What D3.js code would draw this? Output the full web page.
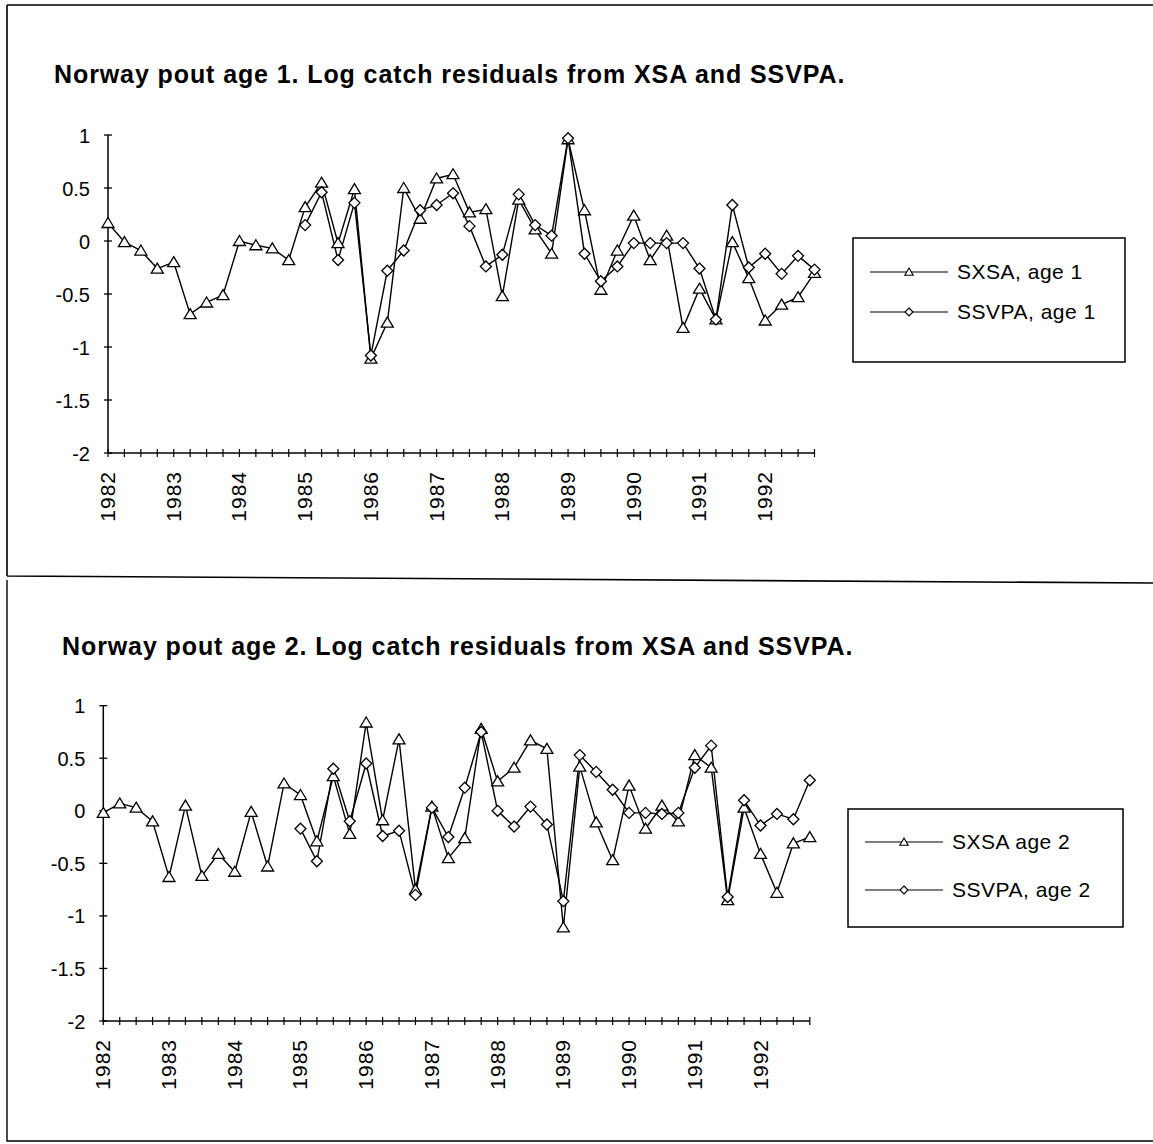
<!DOCTYPE html>
<html>
<head>
<meta charset="utf-8">
<script src="https://cdn.jsdelivr.net/npm/d3@7"></script>
<style>
  html, body { margin: 0; padding: 0; background: #fff; }
  svg { display: block; }
  text { font-family: "Liberation Sans", Arial, Helvetica, sans-serif; fill: #000; }
</style>
</head>
<body>
<svg id="chart" width="1153" height="1144"></svg>
<script>
// ---- Data ----
const years = ["1982","1983","1984","1985","1986","1987","1988","1989","1990","1991","1992"];
const quarters = [1, 2, 3, 4];
const categories = years.flatMap(y => quarters.map(q => y + " Q" + q));
const yTicks = [1, 0.5, 0, -0.5, -1, -1.5, -2];
const yTickLabels = ["1", "0.5", "0", "-0.5", "-1", "-1.5", "-2"];

const titles = [
  "Norway pout age 1. Log catch residuals from XSA and SSVPA.",
  "Norway pout age 2. Log catch residuals from XSA and SSVPA."
];
const seriesNames1 = ["SXSA, age 1", "SSVPA, age 1"];
const seriesNames2 = ["SXSA age 2", "SSVPA, age 2"];

const sxsaAge1 = [0.17,-0.01,-0.09,-0.26,-0.20,-0.69,-0.58,-0.51,0.00,-0.04,-0.07,-0.18,
  0.32,0.55,-0.02,0.49,-1.11,-0.77,0.50,0.21,0.59,0.63,
  0.27,0.30,-0.52,0.39,0.11,-0.12,0.96,0.29,-0.46,-0.09,
  0.24,-0.18,0.05,-0.82,-0.45,-0.74,-0.01,-0.35,-0.75,-0.60,-0.53,-0.30];
const ssvpaAge1 = [null,null,null,null,null,null,null,null,null,null,null,null,
  0.15,0.46,-0.18,0.36,-1.08,-0.28,-0.09,0.29,0.34,0.45,
  0.14,-0.24,-0.13,0.44,0.15,0.05,0.97,-0.12,-0.38,-0.24,
  -0.02,-0.02,-0.02,-0.02,-0.26,-0.74,0.34,-0.25,-0.12,-0.31,-0.14,-0.27];
const sxsaAge2 = [-0.02,0.07,0.03,-0.10,-0.63,0.05,-0.62,-0.41,-0.58,-0.01,-0.53,0.26,
  0.15,-0.29,0.33,-0.22,0.84,-0.09,0.68,-0.75,0.04,-0.45,
  -0.26,0.78,0.28,0.41,0.67,0.59,-1.11,0.42,-0.11,-0.47,
  0.24,-0.17,0.05,-0.10,0.53,0.41,-0.85,0.03,-0.41,-0.78,-0.31,-0.25];
const ssvpaAge2 = [null,null,null,null,null,null,null,null,null,null,null,null,
  -0.17,-0.48,0.40,-0.10,0.45,-0.24,-0.19,-0.80,0.03,-0.25,
  0.22,0.75,0.00,-0.15,0.04,-0.13,-0.86,0.53,0.37,0.20,
  -0.02,-0.02,-0.03,-0.02,0.41,0.62,-0.82,0.10,-0.14,-0.03,-0.08,0.29];

// ---- Drawing ----
const svg = d3.select("#chart");

// panel frames
svg.append("path").attr("d", "M7,5 L1153,5 M7,5 L7,576 M7,576 L1153,583")
  .attr("fill", "none").attr("stroke", "#000").attr("stroke-width", 1.6);
svg.append("path").attr("d", "M7,580 L7,1141 L1153,1141")
  .attr("fill", "none").attr("stroke", "#000").attr("stroke-width", 1.4);

const triPath = "M0,-5.5 L6,4.5 L-6,4.5 Z";
const diaPath = "M0,-5.5 L5.5,0 L0,5.5 L-5.5,0 Z";
const triSmall = "M0,-4 L4.2,3.2 L-4.2,3.2 Z";
const diaSmall = "M0,-4 L4,0 L0,4 L-4,0 Z";

function panel(cfg) {
  const g = svg.append("g");
  const x = d3.scalePoint().domain(categories).range([cfg.x0, cfg.x1]);
  const y = d3.scaleLinear().domain([-2, 1]).range([cfg.yBottom, cfg.yTop]);

  // title
  g.append("text").attr("x", cfg.titleX).attr("y", cfg.titleY)
    .attr("font-size", 25).attr("font-weight", "bold").attr("letter-spacing", 0.9)
    .text(cfg.title);

  // y axis
  const yAxis = d3.axisLeft(y).tickValues(yTicks).tickSize(0).tickFormat((d, i) => yTickLabels[i]);
  const ya = g.append("g").attr("transform", `translate(${cfg.x0},0)`).call(yAxis);
  ya.select(".domain").remove();
  ya.selectAll("text").attr("font-size", 20).attr("x", -18).attr("dy", "0.35em")
    .attr("font-family", "Liberation Sans, Arial, sans-serif").attr("fill", "#000");
  g.append("line").attr("x1", cfg.x0).attr("x2", cfg.x0).attr("y1", y(1)).attr("y2", y(-2))
    .attr("stroke", "#000").attr("stroke-width", 1.5);
  g.selectAll(".ytk").data(yTicks).join("line").attr("class", "ytk")
    .attr("x1", cfg.x0 - 4).attr("x2", cfg.x0 + 4)
    .attr("y1", d => y(d)).attr("y2", d => y(d))
    .attr("stroke", "#000").attr("stroke-width", 1.3);

  // x axis
  g.append("line").attr("x1", cfg.x0).attr("x2", cfg.x1).attr("y1", y(-2)).attr("y2", y(-2))
    .attr("stroke", "#000").attr("stroke-width", 1.5);
  g.selectAll(".xtk").data(categories).join("line").attr("class", "xtk")
    .attr("x1", d => x(d)).attr("x2", d => x(d))
    .attr("y1", y(-2) - 4).attr("y2", y(-2) + 4)
    .attr("stroke", "#000").attr("stroke-width", 1.2);
  g.selectAll(".xlab").data(years).join("text").attr("class", "xlab")
    .attr("transform", d => `translate(${x(d + " Q1") + 7},${y(-2) + 18}) rotate(-90)`)
    .attr("text-anchor", "end").attr("font-size", 21).attr("letter-spacing", 1)
    .text(d => d);

  // series
  const line = d3.line().defined(d => d.v != null).x(d => x(d.c)).y(d => y(d.v));
  cfg.series.forEach(s => {
    const pts = categories.map((c, i) => ({ c, v: s.values[i] }));
    g.append("path").datum(pts).attr("d", line)
      .attr("fill", "none").attr("stroke", "#000").attr("stroke-width", 1.4);
    s.pts = pts;
  });
  cfg.series.forEach(s => {
    g.selectAll(null).data(s.pts.filter(d => d.v != null)).join("path")
      .attr("d", s.marker)
      .attr("transform", d => `translate(${x(d.c)},${y(d.v)})`)
      .attr("fill", "#fff").attr("stroke", "#000").attr("stroke-width", 1.3);
  });

  // legend
  const L = cfg.legend;
  g.append("rect").attr("x", L.x).attr("y", L.y).attr("width", L.w).attr("height", L.h)
    .attr("fill", "#fff").attr("stroke", "#000").attr("stroke-width", 1.5);
  cfg.series.forEach((s, i) => {
    const ly = L.y + L.rows[i];
    g.append("line").attr("x1", L.x + 17).attr("x2", L.x + 95).attr("y1", ly).attr("y2", ly)
      .attr("stroke", "#000").attr("stroke-width", 1.2);
    g.append("path").attr("d", s.small).attr("transform", `translate(${L.x + 56},${ly})`)
      .attr("fill", "#fff").attr("stroke", "#000").attr("stroke-width", 1.1);
    g.append("text").attr("x", L.x + 104).attr("y", ly + 7).attr("font-size", 21)
      .attr("letter-spacing", 0.5).text(s.name);
  });
}

panel({
  title: titles[0], titleX: 54, titleY: 83,
  x0: 108, x1: 814.5, yTop: 135, yBottom: 453,
  legend: { x: 853, y: 238, w: 272, h: 124, rows: [34, 74] },
  series: [
    { name: seriesNames1[0], values: sxsaAge1, marker: triPath, small: triSmall },
    { name: seriesNames1[1], values: ssvpaAge1, marker: diaPath, small: diaSmall }
  ]
});

panel({
  title: titles[1], titleX: 62, titleY: 655,
  x0: 103.3, x1: 809.8, yTop: 705.7, yBottom: 1021,
  legend: { x: 848, y: 809, w: 275, h: 118, rows: [33, 81] },
  series: [
    { name: seriesNames2[0], values: sxsaAge2, marker: triPath, small: triSmall },
    { name: seriesNames2[1], values: ssvpaAge2, marker: diaPath, small: diaSmall }
  ]
});
</script>
</body>
</html>
